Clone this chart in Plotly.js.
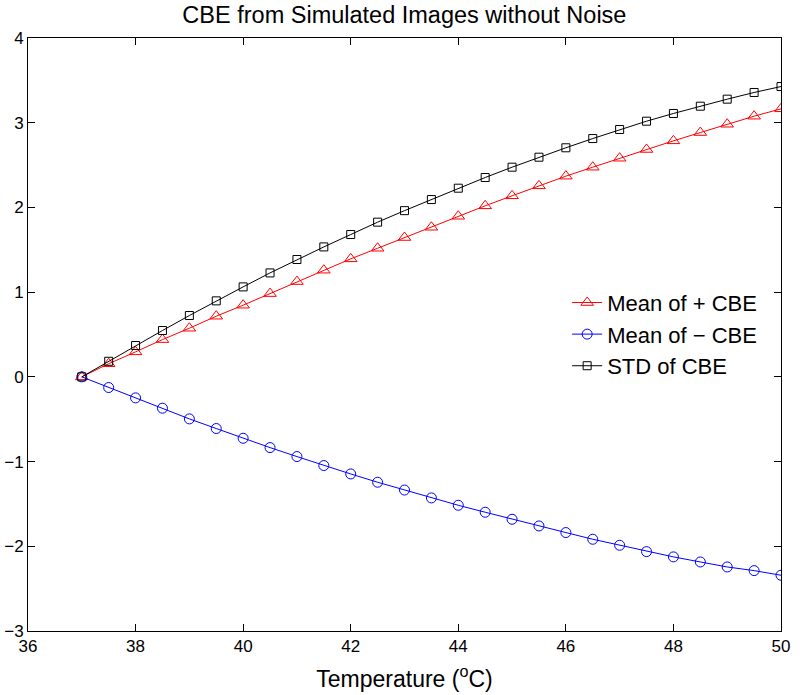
<!DOCTYPE html>
<html>
<head>
<meta charset="utf-8">
<script src="https://cdn.plot.ly/plotly-3.0.1.min.js"></script>
<style>html,body{margin:0;padding:0;background:#fff;}#chart{width:800px;height:695px;}</style>
</head>
<body>
<div id="chart"></div>
<script>
var temperature = [37, 37.5, 38, 38.5, 39, 39.5, 40, 40.5, 41, 41.5, 42, 42.5, 43, 43.5, 44, 44.5, 45, 45.5, 46, 46.5, 47, 47.5, 48, 48.5, 49, 49.5, 50];
var meanPosCBE = [0, 0.155, 0.295, 0.44, 0.574, 0.716, 0.846, 0.983, 1.125, 1.259, 1.393, 1.518, 1.645, 1.766, 1.896, 2.019, 2.137, 2.255, 2.369, 2.475, 2.581, 2.684, 2.786, 2.884, 2.982, 3.077, 3.164];
var meanNegCBE = [0, -0.126, -0.248, -0.37, -0.496, -0.61, -0.725, -0.835, -0.941, -1.047, -1.146, -1.244, -1.336, -1.429, -1.516, -1.598, -1.681, -1.76, -1.838, -1.917, -1.988, -2.063, -2.125, -2.185, -2.244, -2.287, -2.342];
var stdCBE = [0, 0.184, 0.37, 0.547, 0.724, 0.897, 1.062, 1.227, 1.385, 1.534, 1.68, 1.826, 1.962, 2.093, 2.227, 2.353, 2.475, 2.593, 2.704, 2.813, 2.92, 3.018, 3.109, 3.195, 3.278, 3.357, 3.427];
var seriesNames = ['Mean of + CBE', 'Mean of \u2212 CBE', 'STD of CBE'];
var xTicks = [36, 38, 40, 42, 44, 46, 48, 50];
var yTicks = [-3, -2, -1, 0, 1, 2, 3, 4];

var FONT = 'Liberation Sans, Arial, Helvetica, sans-serif';

var traces = [
  {x: temperature, y: meanPosCBE, name: seriesNames[0], mode: 'lines+markers', type: 'scatter',
   line: {color: '#ff0000', width: 1}, marker: {symbol: 'triangle-up-open', size: 11, color: '#ff0000', line: {width: 1}}},
  {x: temperature, y: meanNegCBE, name: seriesNames[1], mode: 'lines+markers', type: 'scatter',
   line: {color: '#0000ff', width: 1}, marker: {symbol: 'circle-open', size: 10, color: '#0000ff', line: {width: 1}}},
  {x: temperature, y: stdCBE, name: seriesNames[2], mode: 'lines+markers', type: 'scatter',
   line: {color: '#000000', width: 1}, marker: {symbol: 'square-open', size: 8, color: '#000000', line: {width: 1}}}
];

var axisCommon = {
  showgrid: false, zeroline: false, showline: true, linecolor: '#000', linewidth: 1,
  mirror: 'ticks', ticks: 'inside', ticklen: 7, tickcolor: '#000', tickwidth: 1,
  tickfont: {family: FONT, size: 17, color: '#000'}, automargin: false
};

var layout = {
  width: 800, height: 695,
  margin: {l: 28, r: 19, t: 38, b: 64},
  paper_bgcolor: '#fff', plot_bgcolor: '#fff',
  font: {family: FONT, color: '#000'},
  title: {text: 'CBE from Simulated Images without Noise', font: {family: FONT, size: 23.5, color: '#000'},
          x: 0.5055, xanchor: 'center', y: 0.979, yanchor: 'middle', yref: 'container'},
  xaxis: Object.assign({}, axisCommon, {
    range: [36, 50], tickmode: 'array', tickvals: xTicks, ticktext: xTicks.map(String),
    title: {text: 'Temperature (<sup>o</sup>C)', font: {family: FONT, size: 23, color: '#000'}, standoff: 15}
  }),
  yaxis: Object.assign({}, axisCommon, {
    range: [-3, 4], tickmode: 'array', tickvals: yTicks, ticktext: yTicks.map(function(v){return v < 0 ? '\u2212' + Math.abs(v) : String(v);})
  }),
  showlegend: true,
  legend: {x: 0.716, xanchor: 'left', y: 0.589, yanchor: 'top', bgcolor: 'rgba(255,255,255,0)', borderwidth: 0,
           font: {family: FONT, size: 22, color: '#000'}, tracegroupgap: 0}
};

Plotly.newPlot('chart', traces, layout, {displayModeBar: false, staticPlot: true});
</script>
</body>
</html>
